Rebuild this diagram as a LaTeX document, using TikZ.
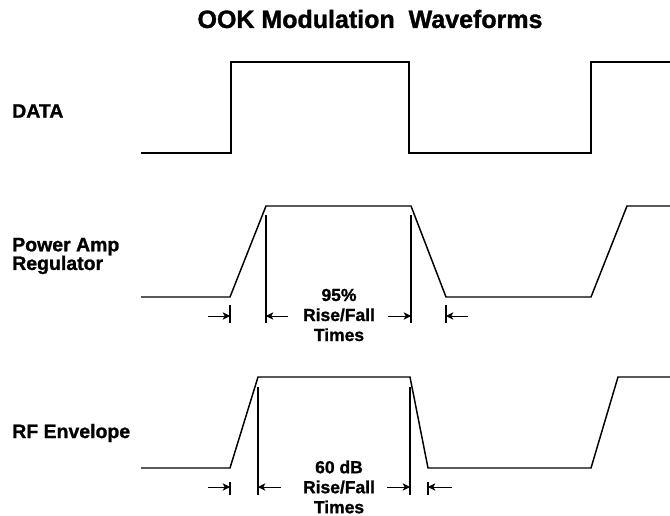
\documentclass[tikz,border=0pt]{standalone}
\usepackage{fontspec}
\setmainfont{Liberation Sans}[BoldFeatures={FakeBold=1.2}]
\usetikzlibrary{arrows.meta, positioning, calc}

\begin{document}
\begin{tikzpicture}[x=0.75pt, y=-0.75pt,
    wave/.style={line width=1.1pt, line join=miter},
    refline/.style={line width=0.8pt},
    dimarrow/.style={line width=0.75pt, -{Stealth[length=5.5pt, width=5.5pt, inset=1.5pt]}},
    lbl/.style={font=\fontsize{14.6}{14}\selectfont\bfseries, anchor=west, align=left, inner sep=0pt},
    dimlbl/.style={font=\fontsize{13.1}{15}\selectfont\bfseries, align=center, inner sep=0pt}]
    \useasboundingbox (0,0) rectangle (670,516);

    % ---- TITLE ----
    \node[font=\fontsize{18.75}{20}\selectfont\bfseries] (title) at (370,19) {OOK Modulation\ \ Waveforms};

    % ---- DATA ----
    \node[lbl] (data) at (12,111) {DATA};
    \draw[wave] (141,153) -- (231,153) -- (231,62) -- (409,62) -- (409,153)
        -- (591,153) -- (591,62) -- (670,62);

    % ---- POWER AMP REGULATOR ----
    \node[lbl] (pa) at (12,256) {Power Amp\\Regulator};
    \draw[wave] (141,297) -- (230,297) coordinate (pa-rs) -- (266,206) coordinate (pa-re)
        -- (411,206) coordinate (pa-fs) -- (446,297) coordinate (pa-fe)
        -- (591,297) -- (627,206) -- (670,206);
    \coordinate (pa-dim) at (0,316);
    \foreach \p in {pa-re, pa-fs}
        \draw[refline] (\p |- 0,215) -- (\p |- 0,323);
    \foreach \p in {pa-rs, pa-fe}
        \draw[refline] (\p |- 0,305) -- (\p |- 0,323);
    \foreach \p/\d in {pa-rs/-22, pa-re/22, pa-fs/-23, pa-fe/22}
        \draw[dimarrow] ($(\p |- pa-dim)+(\d,0)$) -- (\p |- pa-dim);
    \node[dimlbl] (pa-times) at (339,315) {95\%\\Rise/Fall\\Times};

    % ---- RF ENVELOPE ----
    \node[lbl] (rf) at (12,433) {RF Envelope};
    \draw[wave] (141,468) -- (230,468) coordinate (rf-rs) -- (258,377) coordinate (rf-re)
        -- (410,377) coordinate (rf-fs) -- (428,468) coordinate (rf-fe)
        -- (591,468) -- (618,377) -- (670,377);
    \coordinate (rf-dim) at (0,487);
    \foreach \p in {rf-re, rf-fs}
        \draw[refline] (\p |- 0,387) -- (\p |- 0,495);
    \foreach \p in {rf-rs, rf-fe}
        \draw[refline] (\p |- 0,482) -- (\p |- 0,495);
    \foreach \p/\d in {rf-rs/-22, rf-re/23, rf-fs/-23, rf-fe/24}
        \draw[dimarrow] ($(\p |- rf-dim)+(\d,0)$) -- (\p |- rf-dim);
    \node[dimlbl] (rf-times) at (339,487) {60 dB\\Rise/Fall\\Times};
\end{tikzpicture}
\end{document}
